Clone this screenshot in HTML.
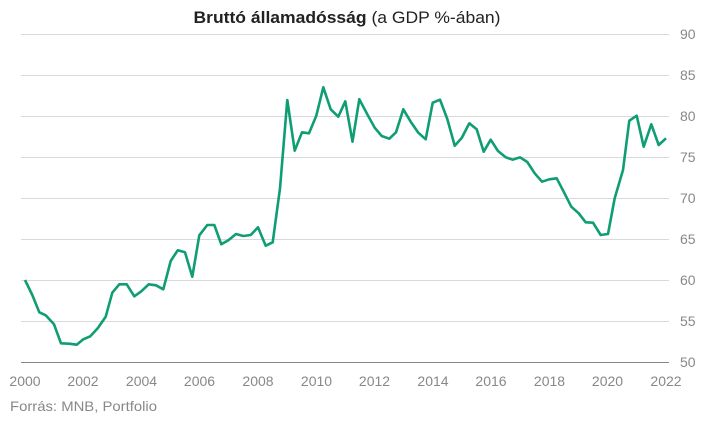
<!DOCTYPE html>
<html><head><meta charset="utf-8"><style>
html,body{margin:0;padding:0;background:#fff;}
svg{display:block;font-family:"Liberation Sans",sans-serif;}
</style></head><body>
<svg width="720" height="421" viewBox="0 0 720 421" xmlns="http://www.w3.org/2000/svg">
<text x="347" y="23" text-anchor="middle" font-size="17" fill="#222" textLength="307" lengthAdjust="spacingAndGlyphs"><tspan font-weight="bold">Bruttó államadósság</tspan> (a GDP %-ában)</text>
<g stroke="#d9d9d9" stroke-width="1">
<line x1="21" x2="669" y1="34.5" y2="34.5"/><line x1="21" x2="669" y1="75.5" y2="75.5"/><line x1="21" x2="669" y1="116.5" y2="116.5"/><line x1="21" x2="669" y1="157.5" y2="157.5"/><line x1="21" x2="669" y1="198.5" y2="198.5"/><line x1="21" x2="669" y1="239.5" y2="239.5"/><line x1="21" x2="669" y1="280.5" y2="280.5"/><line x1="21" x2="669" y1="321.5" y2="321.5"/>
</g>
<line x1="21" x2="669" y1="362.5" y2="362.5" stroke="#888" stroke-width="1"/>
<g font-size="14" fill="#888">
<text x="680" y="39">90</text><text x="680" y="80">85</text><text x="680" y="121">80</text><text x="680" y="162">75</text><text x="680" y="203">70</text><text x="680" y="244">65</text><text x="680" y="285">60</text><text x="680" y="326">55</text><text x="680" y="367">50</text>
</g>
<g font-size="14" fill="#888" text-anchor="middle">
<text x="25" y="386">2000</text><text x="83" y="386">2002</text><text x="141.5" y="386">2004</text><text x="199.5" y="386">2006</text><text x="258" y="386">2008</text><text x="316.5" y="386">2010</text><text x="374.5" y="386">2012</text><text x="433" y="386">2014</text><text x="491" y="386">2016</text><text x="549.5" y="386">2018</text><text x="607.5" y="386">2020</text><text x="666" y="386">2022</text>
</g>
<text x="10" y="411" font-size="14" fill="#888" textLength="147" lengthAdjust="spacingAndGlyphs">Forrás: MNB, Portfolio</text>
<polyline fill="none" stroke="#0f9d74" stroke-width="2.6" stroke-linejoin="round" points="25,280 32.3,295 39.3,312.3 45.7,315.3 54,324.3 61,343.3 69,343.7 76.7,344.7 83.3,339.3 90.3,336.3 97.7,328.3 105.7,316.7 112.3,292.7 119.3,284.3 126.7,284.3 134.3,296.3 141.3,291.3 148.7,284.3 156,285.3 163.3,289.3 170.7,261 177.7,250.3 185,252.3 192.3,276.7 199.3,235.3 207.3,225 214.3,225 221.3,244.3 228.7,240 236,234 243.3,236 250.7,235 258,227.3 265.7,245.7 272.7,242.3 280,188.3 287.3,100 294.7,150.7 302,132.3 309,133.3 316.3,115.7 323.3,87.3 330.7,109.3 338.3,116.7 345.3,101.3 352.5,141.7 359.3,99.2 367.3,114.3 374.7,127.7 381.7,136 389.3,138.7 396,132.3 403.3,109.3 410.7,121.7 418.3,132.7 425.7,139.3 432.7,102.7 440,99.7 447.3,119 454.7,145.7 461.7,138 469.3,123.3 476.7,129.3 483.7,151.7 490.7,139.7 498,151 505.7,157.3 512.7,159.7 520,157.3 527.3,162 534.7,173.3 542,181.7 549.3,179.3 556.7,178.3 564,192.3 571.3,206.7 578.7,213.3 585.7,222.3 593,222.7 600.7,235 608,234 614.7,198.3 623,170 629.3,120.7 636.7,115.7 643.7,146.7 651.3,124.3 658.7,145 666,138.3"/>
</svg>
</body></html>
